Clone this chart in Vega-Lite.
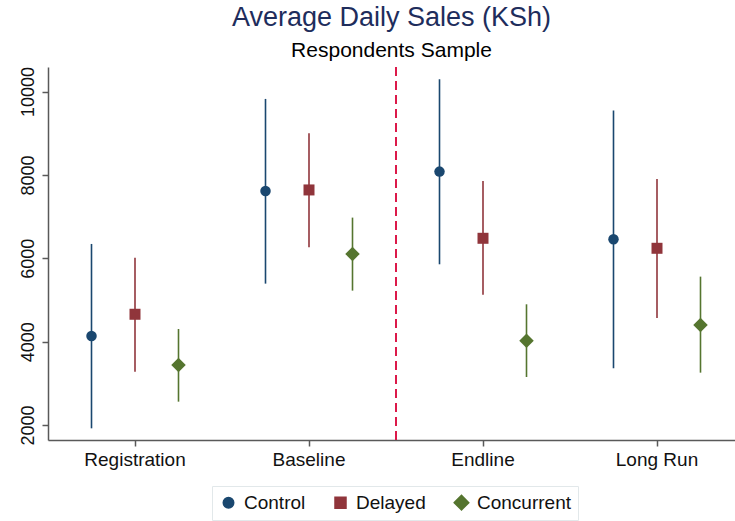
{
  "$schema": "https://vega.github.io/schema/vega-lite/v6.json",
  "autosize": {"type": "none"},
  "width": 687,
  "height": 373,
  "padding": {"left": 48, "top": 67, "right": 0, "bottom": 81},
  "background": "white",
  "config": {
    "font": "Liberation Sans",
    "view": {"stroke": null}
  },
  "title": {
    "text": "Average Daily Sales (KSh)",
    "subtitle": "Respondents Sample",
    "anchor": "middle",
    "font": "Liberation Sans",
    "fontSize": 27,
    "fontWeight": "normal",
    "color": "#1e2d5c",
    "subtitleFont": "Liberation Sans",
    "subtitleFontSize": 21,
    "subtitleColor": "#000000",
    "subtitlePadding": 8,
    "offset": 4
  },
  "data": {
    "values": [
      {"period": "Registration", "group": "Control", "mean": 4136, "lo": 1920, "hi": 6344},
      {"period": "Registration", "group": "Delayed", "mean": 4657, "lo": 3280, "hi": 6016},
      {"period": "Registration", "group": "Concurrent", "mean": 3440, "lo": 2560, "hi": 4304},
      {"period": "Baseline", "group": "Control", "mean": 7616, "lo": 5392, "hi": 9824},
      {"period": "Baseline", "group": "Delayed", "mean": 7640, "lo": 6264, "hi": 9000},
      {"period": "Baseline", "group": "Concurrent", "mean": 6104, "lo": 5224, "hi": 6976},
      {"period": "Endline", "group": "Control", "mean": 8080, "lo": 5856, "hi": 10296},
      {"period": "Endline", "group": "Delayed", "mean": 6480, "lo": 5128, "hi": 7856},
      {"period": "Endline", "group": "Concurrent", "mean": 4024, "lo": 3152, "hi": 4896},
      {"period": "Long Run", "group": "Control", "mean": 6456, "lo": 3360, "hi": 9544},
      {"period": "Long Run", "group": "Delayed", "mean": 6240, "lo": 4568, "hi": 7904},
      {"period": "Long Run", "group": "Concurrent", "mean": 4400, "lo": 3256, "hi": 5560}
    ]
  },
  "encoding": {
    "x": {
      "field": "period",
      "type": "nominal",
      "sort": ["Registration", "Baseline", "Endline", "Long Run"],
      "scale": {"type": "band", "range": [0, 696], "paddingInner": 0, "paddingOuter": 0},
      "axis": {
        "title": null,
        "labelAngle": 0,
        "labelFontSize": 19,
        "labelColor": "#111111",
        "labelPadding": 4,
        "domainColor": "#595959",
        "domainWidth": 1.5,
        "tickColor": "#595959",
        "tickSize": 6,
        "tickWidth": 1.5,
        "grid": false
      }
    }
  },
  "layer": [
    {
      "mark": {"type": "rule", "strokeDash": [9, 5], "strokeWidth": 1.8, "color": "#dc1a4a"},
      "encoding": {
        "x": {"datum": "Endline", "bandPosition": 0}
      }
    },
    {
      "mark": {"type": "rule", "strokeWidth": 1.6},
      "encoding": {
        "xOffset": {
          "field": "group",
          "type": "nominal",
          "sort": ["Control", "Delayed", "Concurrent"],
          "scale": {"type": "point", "range": [43.5, 130.5], "padding": 0}
        },
        "y": {
          "field": "lo",
          "type": "quantitative",
          "scale": {"domain": [1640, 10590], "nice": false, "zero": false},
          "axis": {
            "title": null,
            "values": [2000, 4000, 6000, 8000, 10000],
            "format": "d",
            "labelAngle": -90,
            "labelAlign": "center",
            "labelBaseline": "bottom",
            "labelFontSize": 18,
            "labelColor": "#111111",
            "labelPadding": 5,
            "domainColor": "#595959",
            "domainWidth": 1.5,
            "tickColor": "#595959",
            "tickSize": 6,
            "tickWidth": 1.5,
            "grid": false
          }
        },
        "y2": {"field": "hi"},
        "color": {
          "field": "group",
          "type": "nominal",
          "sort": ["Control", "Delayed", "Concurrent"],
          "scale": {"domain": ["Control", "Delayed", "Concurrent"], "range": ["#1a476f", "#90353b", "#55752f"]},
          "legend": {
            "title": null,
            "orient": "none",
            "direction": "horizontal",
            "legendX": 164,
            "legendY": 419,
            "labelFontSize": 19,
            "labelColor": "#111111",
            "symbolSize": 100,
            "symbolOpacity": 1,
            "columnPadding": 25,
            "labelOffset": 6,
            "padding": 7,
            "strokeColor": "#e2e8ea",
            "fillColor": "white"
          }
        }
      }
    },
    {
      "mark": {"type": "point", "filled": true, "opacity": 1},
      "encoding": {
        "xOffset": {
          "field": "group",
          "type": "nominal",
          "sort": ["Control", "Delayed", "Concurrent"],
          "scale": {"type": "point", "range": [43.5, 130.5], "padding": 0}
        },
        "y": {"field": "mean", "type": "quantitative"},
        "color": {
          "field": "group",
          "type": "nominal",
          "sort": ["Control", "Delayed", "Concurrent"],
          "scale": {"domain": ["Control", "Delayed", "Concurrent"], "range": ["#1a476f", "#90353b", "#55752f"]},
          "legend": {
            "title": null,
            "orient": "none",
            "direction": "horizontal",
            "legendX": 164,
            "legendY": 419,
            "labelFontSize": 19,
            "labelColor": "#111111",
            "symbolSize": 100,
            "symbolOpacity": 1,
            "columnPadding": 25,
            "labelOffset": 6,
            "padding": 7,
            "strokeColor": "#e2e8ea",
            "fillColor": "white"
          }
        },
        "shape": {
          "field": "group",
          "type": "nominal",
          "sort": ["Control", "Delayed", "Concurrent"],
          "scale": {"domain": ["Control", "Delayed", "Concurrent"], "range": ["circle", "square", "diamond"]}
        },
        "size": {
          "field": "group",
          "type": "nominal",
          "scale": {"type": "ordinal", "domain": ["Control", "Delayed", "Concurrent"], "range": [110, 121, 210]},
          "legend": null
        }
      }
    }
  ]
}
